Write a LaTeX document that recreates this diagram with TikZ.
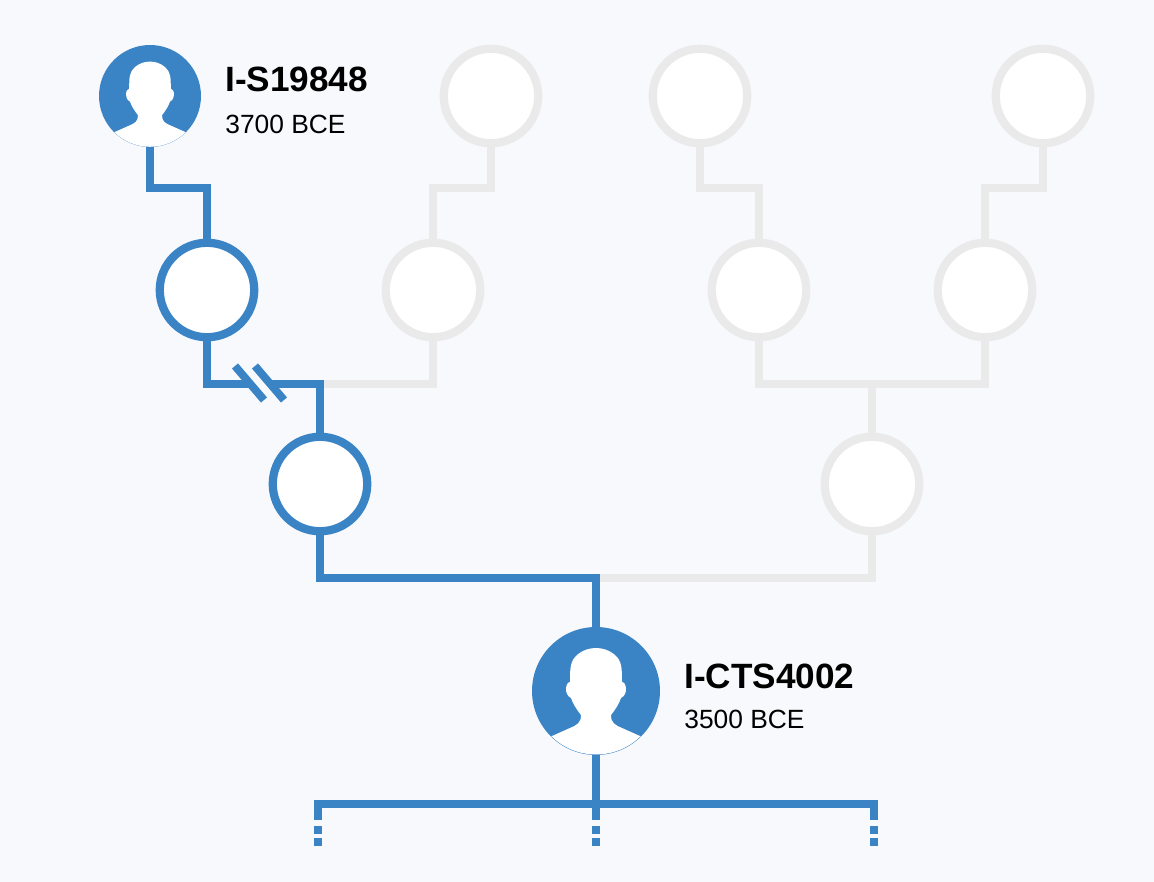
\documentclass[tikz,border=0pt]{standalone}
\usepackage{fontspec}
\setmainfont{Liberation Sans}
\definecolor{pagebg}{HTML}{F8F9FD}
\definecolor{lineblue}{HTML}{3A84C6}
\definecolor{linegrey}{HTML}{EAEAEA}
\begin{document}
\begin{tikzpicture}[
    x=0.02cm, y=-0.02cm,
    sample/.style={circle, draw=lineblue, fill=white, line width=4.7pt, minimum size=1.89cm, inner sep=0pt},
    ghost/.style={sample, draw=linegrey},
    avatar/.style={circle, fill=lineblue, inner sep=0pt},
    wire/.style={line width=4.5pt, draw=lineblue},
    ghostwire/.style={wire, draw=linegrey},
    idlabel/.style={anchor=base west, inner sep=0pt, font=\fontsize{20pt}{24pt}\selectfont\bfseries},
    datelabel/.style={anchor=base west, inner sep=0pt, font=\fontsize{15pt}{18pt}\selectfont},
    person/.pic={
        \clip (0,0) circle (63.5);
        \fill[white] (-56,50) -- (-44,45) -- (-26,37) .. controls (-19,34) and (-15,32) .. (-15,24)
            .. controls (-19,19) and (-23,13) .. (-25,7)
            .. controls (-29,5) and (-30,1) .. (-30,-2)
            .. controls (-30,-6) and (-28,-9) .. (-26,-9)
            .. controls (-26,-22) and (-26,-30) .. (-19,-36)
            .. controls (-13,-41) and (-7,-43) .. (0,-43)
            .. controls (7,-43) and (13,-41) .. (19,-36)
            .. controls (26,-30) and (26,-22) .. (26,-9)
            .. controls (28,-9) and (30,-6) .. (30,-2)
            .. controls (30,1) and (29,5) .. (25,7)
            .. controls (23,13) and (19,19) .. (15,24)
            .. controls (15,32) and (19,34) .. (26,37)
            -- (44,45) -- (56,50) -- (56,70) -- (-56,70) -- cycle;
    }
]
\useasboundingbox[fill=pagebg] (0,0) rectangle (1154,882);

% Top row
\node[avatar, minimum size=2.04cm] (top1) at (150,96) {};
\pic[scale=0.8] at (150,96) {person};
\node[ghost] (top2) at (491,96) {};
\node[ghost] (top3) at (700,96) {};
\node[ghost] (top4) at (1043,96) {};

% Second row
\node[sample] (mid1) at (207,290) {};
\node[ghost] (mid2) at (433,290) {};
\node[ghost] (mid3) at (759,290) {};
\node[ghost] (mid4) at (985,290) {};

% Third row
\node[sample] (low1) at (320,484) {};
\node[ghost] (low2) at (872,484) {};

% Bottom sample
\node[avatar, minimum size=2.56cm] (base) at (596,691) {};
\pic at (596,691) {person};

% Free ends
\coordinate (cutL) at (249.5,384);
\coordinate (cutR) at (269.5,384);
\coordinate (joinA) at (320,384);
\coordinate (joinB) at (872,384);
\coordinate (joinC) at (596,578);
\coordinate (leafA) at (318,820);
\coordinate (leafB) at (596,820);
\coordinate (leafC) at (874,820);

% Grey lines
\draw[ghostwire] (top2.south) -- ++(0,41) -| (mid2.north);
\draw[ghostwire] (top3.south) -- ++(0,41) -| (mid3.north);
\draw[ghostwire] (top4.south) -- ++(0,41) -| (mid4.north);
\draw[ghostwire] (joinA) -| (mid2.south);
\draw[ghostwire] (mid3.south) |- (joinB) -| (mid4.south);
\draw[ghostwire] (joinB) -- (low2.north);
\draw[ghostwire] (joinC) -| (low2.south);

% Blue lines
\draw[wire] (top1.south) -- ++(0,41) -| (mid1.north);
\draw[wire] (mid1.south) |- (cutL);
\draw[wire] (cutR) -| (low1.north);
\draw[wire] (low1.south) |- (joinC) -- (base.north);
\draw[wire] (base.south) -- (leafB);
\draw[wire] (leafA) -- ++(0,-16) -| (leafC);

% Break marks
\draw[wire] (235,366) -- (264,400);
\draw[wire] (255,366) -- (284,400);

% Dotted ends
\foreach \x in {318,596,874} {
    \draw[wire] (\x,826) -- (\x,834);
    \draw[wire] (\x,838) -- (\x,846);
}

% Labels
\node[idlabel] (id1) at (225,92) {I-S19848};
\node[datelabel] (date1) at (225,133) {3700 BCE};
\node[idlabel] (id2) at (684,688) {I-CTS4002};
\node[datelabel] (date2) at (684,728) {3500 BCE};

\end{tikzpicture}
\end{document}
